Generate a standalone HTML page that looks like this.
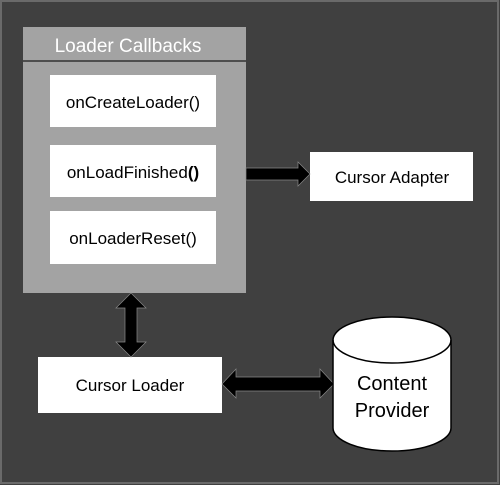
<!DOCTYPE html>
<html><head><style>
body{margin:0;background:#404040;}
svg{display:block;}
text{font-family:"Liberation Sans",sans-serif;}
</style></head><body>
<svg width="500" height="485" viewBox="0 0 500 485">
<rect x="0" y="0" width="500" height="485" fill="#404040"/>
<rect x="1" y="1" width="497" height="482" fill="none" stroke="#6a6a6a" stroke-width="2"/>
<rect x="23" y="27" width="223" height="266" fill="#a3a3a3"/>
<line x1="23" y1="61" x2="246" y2="61" stroke="#333" stroke-width="1.5"/>
<text x="128" y="52" fill="#fff" font-size="19" text-anchor="middle">Loader Callbacks</text>
<rect x="50" y="75" width="166" height="52" fill="#fff"/>
<rect x="50" y="145" width="166" height="52" fill="#fff"/>
<rect x="50" y="211" width="166" height="53" fill="#fff"/>
<g font-size="17" text-anchor="middle" fill="#000">
<text x="133" y="108">onCreateLoader()</text>
<text x="133" y="178">onLoadFinished<tspan font-weight="bold">()</tspan></text>
<text x="133" y="244">onLoaderReset()</text>
</g>
<rect x="310" y="152" width="163" height="49" fill="#fff"/>
<text x="392" y="183" font-size="17" text-anchor="middle">Cursor Adapter</text>
<polygon points="246,168 298,168 298,162 310,174 298,186 298,180 246,180" fill="#000" stroke="#888" stroke-width="0.7"/>
<rect x="38" y="357" width="184" height="56" fill="#fff"/>
<text x="130" y="391" font-size="17" text-anchor="middle">Cursor Loader</text>
<polygon points="131,293 146,308 137,308 137,342 146,342 131,357 116,342 125,342 125,308 116,308" fill="#000" stroke="#888" stroke-width="0.7"/>
<polygon points="222,384 236,369 236,377 320,377 320,369 334,384 320,398 320,391 236,391 236,398" fill="#000" stroke="#888" stroke-width="0.7"/>
<path d="M333,340 L333,428 A59,23 0 0 0 451,428 L451,340 A59,23 0 0 0 333,340 Z" fill="#fff" stroke="#000" stroke-width="1.5"/>
<path d="M333,340 A59,23 0 0 0 451,340" fill="none" stroke="#000" stroke-width="1.5"/>
<text x="392" y="390" font-size="20" text-anchor="middle">Content</text>
<text x="392" y="417" font-size="20" text-anchor="middle">Provider</text>
</svg>
</body></html>
